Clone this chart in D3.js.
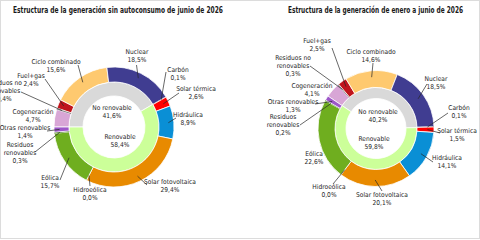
<!DOCTYPE html>
<html>
<head>
<meta charset="utf-8">
<script src="https://cdn.jsdelivr.net/npm/d3@7"></script>
<style>
  body { margin: 0; background: #fff; }
  svg { display: block; }
  text { font-family: "Liberation Sans Narrow", "DejaVu Sans Condensed", "Arial Narrow", sans-serif; fill: #262626; }
  .title { font-weight: bold; font-size: 9px; fill: #1a1a1a; }
  .lbl { font-size: 6.6px; }
</style>
</head>
<body>
<svg id="chart"></svg>
<script>
// data: outer ring categories (clockwise from the first slice)
var categories = ["Cogeneración", "Residuos no renovables", "Fuel+gas", "Ciclo combinado",
    "Nuclear", "Carbón", "Solar térmica", "Hidráulica", "Solar fotovoltaica",
    "Hidroeólica", "Eólica", "Residuos renovables", "Otras renovables"];
var junioValues      = [4.7, 0.4, 2.4, 15.6, 18.5, 0.1, 2.6, 8.9, 29.4, 0.0, 15.7, 0.3, 1.4];
var eneroJunioValues = [4.1, 0.3, 2.5, 14.6, 18.5, 0.1, 1.5, 14.1, 20.1, 0.0, 22.6, 0.2, 1.3];

// inner ring
var groups = ["No renovable", "Renovable"];
var junioGroups      = [41.6, 58.4];
var eneroJunioGroups = [40.2, 59.8];

var titles = ["Estructura de la generación sin autoconsumo de junio de 2026",
              "Estructura de la generación de enero a junio de 2026"];

var catColors = ["#d8a6d6", "#7f7f7f", "#c0141c", "#fec96f", "#403d91", "#262626",
    "#ff0000", "#0a8fd5", "#e88a00", "#1f6fb0", "#6fae1f", "#3f7a12", "#9d57c9"];
var groupColors = ["#d9d9d9", "#ccff99"];

// label text lines per category
var wrap = {
    "Residuos no renovables": ["Residuos no", "renovables"],
    "Residuos renovables": ["Residuos", "renovables"]
};

var width = 480, height = 240;
var locale = d3.formatLocale({ decimal: ",", thousands: ".", grouping: [3], currency: ["", "€"] })
  , pct = function(v) { return locale.format(".1f")(v) + "%"; }
;

var svg = d3.select("#chart").attr("width", width).attr("height", height);

svg.append("rect")
    .attr("x", 0.5).attr("y", 0.5)
    .attr("width", width - 1).attr("height", height - 2)
    .attr("fill", "none").attr("stroke", "#dcdcdc")
;

// layout: label [x, y, lineStartX, lineStartY] per category (null = no leader line)
var layouts = [
  { cx: 114, cy: 127, r0: 31, r1: 45, r2: 60, start: -90, titleX: 118, titleW: 210,
    inner: [[112, 108], [120, 137]],
    labels: [
      [33, 112, null, null],
      [4, 83, 21, 92],
      [31, 76, 45, 79],
      [56, 62, 78, 65],
      [137, 52, 136.5, 65],
      [178, 70, 166, 72],
      [196, 89, 179, 93],
      [188, 115, 176, 118],
      [170, 182, 147, 185],
      [90, 190, 90, 186],
      [50, 178, 60, 180],
      [20, 145, 35, 152],
      [25, 128, 47, 131]
    ] },
  { cx: 376, cy: 128.5, r0: 30, r1: 41, r2: 58, start: -56, titleX: 375.5, titleW: 175,
    inner: [[378, 112], [374, 139]],
    labels: [
      [312, 86, null, null],
      [293, 58, 310, 66],
      [317, 41, 332, 48],
      [371, 52, 373, 63],
      [436, 79, 427, 84],
      [459, 108, 448, 113],
      [457, 131, 440, 133],
      [447, 158, 433, 162],
      [382, 195, 382, 191],
      [329, 187, 333, 184],
      [314, 154, null, null],
      [283, 117, 300, 125],
      [293, 102, 315, 104]
    ] }
];

var series = [
  { title: titles[0], values: junioValues, groupValues: junioGroups },
  { title: titles[1], values: eneroJunioValues, groupValues: eneroJunioGroups }
];

series.forEach(function(s, i) {
    var L = layouts[i]
      , a0 = L.start * Math.PI / 180
      , pie = d3.pie().sort(null).value(function(d) { return d.value; })
            .startAngle(a0).endAngle(a0 + 2 * Math.PI)
      , outerArc = d3.arc().innerRadius(L.r1).outerRadius(L.r2)
      , innerArc = d3.arc().innerRadius(L.r0).outerRadius(L.r1)
      , pointArc = d3.arc().innerRadius((L.r1 + L.r2) / 2 + 2).outerRadius((L.r1 + L.r2) / 2 + 2)
      , outerData = pie(categories.map(function(c, k) {
            return { name: c, value: s.values[k], color: catColors[k], layout: L.labels[k] };
        }))
      , innerData = pie(groups.map(function(g, k) {
            return { name: g, value: s.groupValues[k], color: groupColors[k], pos: L.inner[k] };
        }))
      , g = svg.append("g")
    ;

    g.append("text")
        .attr("class", "title")
        .attr("x", L.titleX).attr("y", 13)
        .attr("text-anchor", "middle")
        .attr("textLength", L.titleW)
        .attr("lengthAdjust", "spacingAndGlyphs")
        .text(s.title)
    ;

    var ring = g.append("g").attr("transform", "translate(" + L.cx + "," + L.cy + ")");

    ring.selectAll("path.inner")
        .data(innerData)
      .enter().append("path")
        .attr("class", "inner")
        .attr("d", innerArc)
        .attr("fill", function(d) { return d.data.color; })
        .attr("stroke", "#fff").attr("stroke-width", 0.8)
    ;
    ring.selectAll("path.outer")
        .data(outerData)
      .enter().append("path")
        .attr("class", "outer")
        .attr("d", outerArc)
        .attr("fill", function(d) { return d.data.color; })
        .attr("stroke", "#fff").attr("stroke-width", function(d) { return d.data.value > 0.5 ? 0.8 : 0; })
    ;

    // leader lines
    g.selectAll("line.lead")
        .data(outerData.filter(function(d) { return d.data.layout[2] !== null; }))
      .enter().append("line")
        .attr("class", "lead")
        .attr("x1", function(d) { return d.data.layout[2]; })
        .attr("y1", function(d) { return d.data.layout[3]; })
        .attr("x2", function(d) { return L.cx + pointArc.centroid(d)[0]; })
        .attr("y2", function(d) { return L.cy + pointArc.centroid(d)[1]; })
        .attr("stroke", "#262626").attr("stroke-width", 0.7)
    ;

    // outer labels
    var lbl = g.selectAll("text.lbl.out")
        .data(outerData)
      .enter().append("text")
        .attr("class", "lbl out")
        .attr("text-anchor", "middle")
    ;
    lbl.each(function(d) {
        var lines = (wrap[d.data.name] || [d.data.name]).concat([pct(d.data.value)])
          , self = d3.select(this)
        ;
        lines.forEach(function(t, k) {
            self.append("tspan")
                .attr("x", d.data.layout[0])
                .attr("y", d.data.layout[1] + k * 7.6)
                .attr("dy", "0.35em")
                .text(t)
            ;
        });
    });

    // inner labels
    g.selectAll("text.lbl.in")
        .data(innerData)
      .enter().append("text")
        .attr("class", "lbl in")
        .attr("text-anchor", "middle")
        .each(function(d) {
            var self = d3.select(this);
            [d.data.name, pct(d.data.value)].forEach(function(t, k) {
                self.append("tspan")
                    .attr("x", d.data.pos[0])
                    .attr("y", d.data.pos[1] + k * 7.6)
                    .attr("dy", "0.35em")
                    .text(t)
                ;
            });
        })
    ;
});
</script>
</body>
</html>
